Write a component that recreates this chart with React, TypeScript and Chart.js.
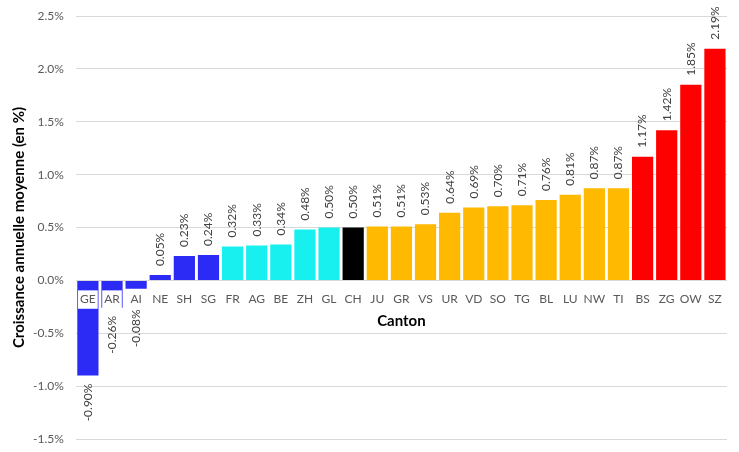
import React, { useEffect, useRef } from 'react';
import Chart from 'chart.js/auto';

const cantons = ['GE', 'AR', 'AI', 'NE', 'SH', 'SG', 'FR', 'AG', 'BE', 'ZH', 'GL', 'CH', 'JU', 'GR', 'VS', 'UR', 'VD', 'SO', 'TG', 'BL', 'LU', 'NW', 'TI', 'BS', 'ZG', 'OW', 'SZ'];
const growth = [-0.9, -0.26, -0.08, 0.05, 0.23, 0.24, 0.32, 0.33, 0.34, 0.48, 0.5, 0.5, 0.51, 0.51, 0.53, 0.64, 0.69, 0.7, 0.71, 0.76, 0.81, 0.87, 0.87, 1.17, 1.42, 1.85, 2.19];
// colour group of each canton
const groups = ['b', 'b', 'b', 'b', 'b', 'b', 'c', 'c', 'c', 'c', 'c', 'k', 'o', 'o', 'o', 'o', 'o', 'o', 'o', 'o', 'o', 'o', 'o', 'r', 'r', 'r', 'r'];
const groupColors: Record<string, string> = {
  b: '#2B2BF5',
  c: '#18F0F0',
  k: '#000000',
  o: '#FFB900',
  r: '#FF0000',
};

const FONT = 'Lato, "Open Sans", sans-serif';

const valueLabels = {
  id: 'valueLabels',
  afterDatasetsDraw(chart: Chart) {
    const ctx = chart.ctx;
    const meta = chart.getDatasetMeta(0);
    const zeroY = chart.scales.y.getPixelForValue(0);
    ctx.save();
    ctx.font = `12px ${FONT}`;
    ctx.fillStyle = '#404040';
    ctx.textBaseline = 'middle';
    meta.data.forEach((bar: any, i: number) => {
      const v = growth[i];
      const text = v.toFixed(2) + '%';
      ctx.save();
      if (v >= 0) {
        ctx.translate(bar.x, bar.y - 9);
        ctx.rotate(-Math.PI / 2);
        ctx.textAlign = 'left';
      } else {
        let start = bar.y + 8;
        // keep clear of the category label under the zero line
        if (start < zeroY + 28) start = zeroY + 29;
        ctx.translate(bar.x, start);
        ctx.rotate(-Math.PI / 2);
        ctx.textAlign = 'right';
      }
      ctx.fillText(text, 0, 0);
      ctx.restore();
    });
    ctx.restore();
  },
};

export default function App() {
  const canvasRef = useRef<HTMLCanvasElement>(null);
  const chartRef = useRef<Chart | null>(null);

  useEffect(() => {
    document.body.style.margin = '0';
    if (!canvasRef.current) return;
    const ctx = canvasRef.current.getContext('2d');
    if (!ctx) return;
    if (chartRef.current) chartRef.current.destroy();
    chartRef.current = new Chart(ctx, {
      type: 'bar',
      data: {
        labels: cantons,
        datasets: [
          {
            data: growth,
            backgroundColor: groups.map((g) => groupColors[g]),
            barPercentage: 0.88,
            categoryPercentage: 1,
          },
        ],
      },
      options: {
        animation: false,
        responsive: true,
        maintainAspectRatio: false,
        layout: { padding: { left: 10, right: 12, top: 16, bottom: 13 } },
        plugins: {
          legend: { display: false },
          tooltip: { enabled: false },
        },
        scales: {
          x: {
            position: { y: 0 } as any,
            grid: { display: false },
            border: { display: false },
            ticks: {
              z: 1,
              color: '#595959',
              font: { family: FONT, size: 12 },
              padding: 4,
              maxRotation: 0,
              autoSkip: false,
              showLabelBackdrop: true,
              backdropColor: '#ffffff',
              backdropPadding: 2,
            } as any,
            title: {
              display: true,
              text: 'Canton',
              color: '#000000',
              font: { family: FONT, size: 15, weight: 'bold' },
              padding: { top: 1 },
            },
          },
          y: {
            min: -1.5,
            max: 2.5,
            border: { display: false },
            grid: { color: '#d9d9d9', lineWidth: 1, drawTicks: false },
            afterFit: (scale: any) => {
              scale.paddingTop = 0;
              scale.paddingBottom = 0;
            },
            ticks: {
              stepSize: 0.5,
              color: '#595959',
              font: { family: FONT, size: 12 },
              padding: 12,
              callback: (v) => Number(v).toFixed(1) + '%',
            },
            title: {
              display: true,
              text: 'Croissance annuelle moyenne (en %)',
              color: '#000000',
              font: { family: FONT, size: 15, weight: 'bold' },
              padding: { top: 0, bottom: -7 },
            },
          },
        },
      },
      plugins: [valueLabels],
    });
    return () => {
      if (chartRef.current) chartRef.current.destroy();
      chartRef.current = null;
    };
  }, []);

  return (
    <div style={{ width: 739, height: 452, position: 'relative', background: '#ffffff' }}>
      <canvas ref={canvasRef}></canvas>
    </div>
  );
}
